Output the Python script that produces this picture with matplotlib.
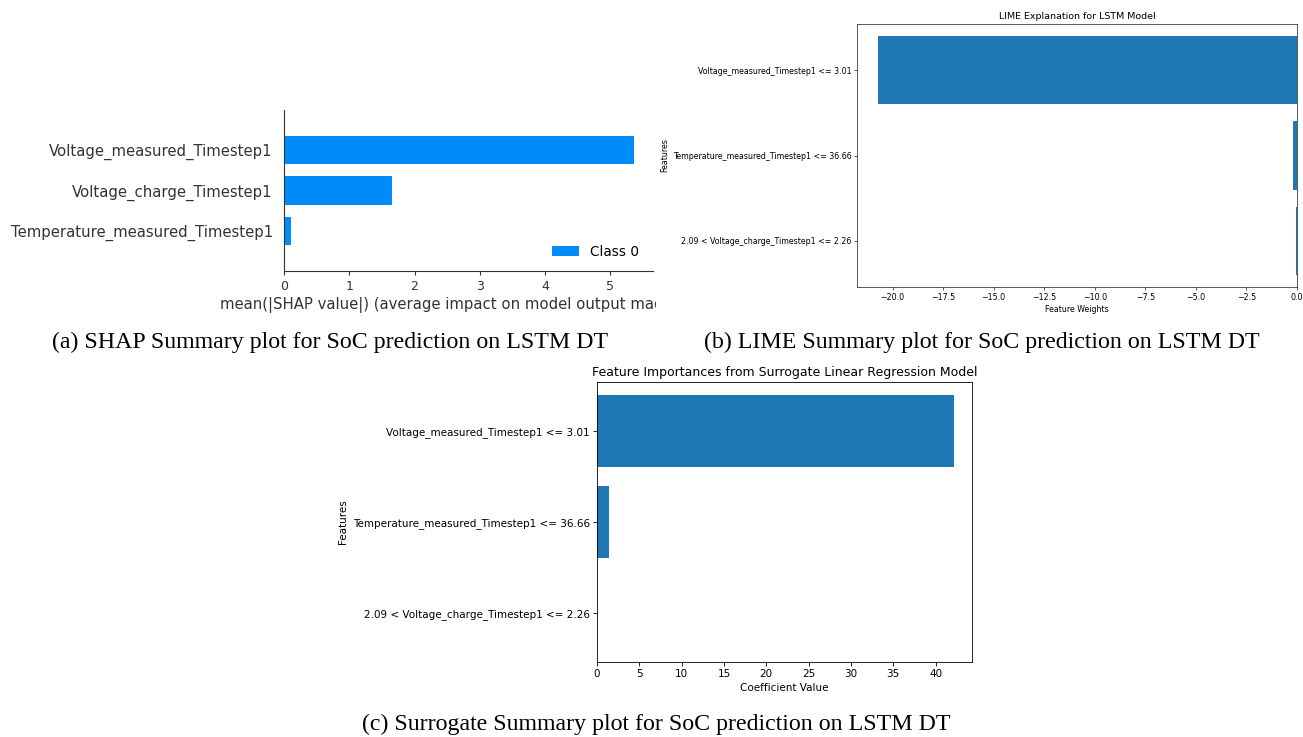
import matplotlib.pyplot as plt
from matplotlib.transforms import Bbox

# (a) SHAP mean |value|, top to bottom
shap_features = ["Voltage_measured_Timestep1", "Voltage_charge_Timestep1",
                 "Temperature_measured_Timestep1"]
shap_values = [5.36, 1.66, 0.11]

# (b) LIME weights, bottom to top
lime_features = ["2.09 < Voltage_charge_Timestep1 <= 2.26",
                 "Temperature_measured_Timestep1 <= 36.66",
                 "Voltage_measured_Timestep1 <= 3.01"]
lime_weights = [-0.04, -0.22, -20.72]

# (c) surrogate coefficients, bottom to top
sur_features = lime_features
sur_coefs = [0.0, 1.4, 42.2]

W, H = 1303, 737
fig = plt.figure(figsize=(W / 100, H / 100), dpi=100)


def rect(x0, y0, x1, y1):
    return [x0 / W, 1 - y1 / H, (x1 - x0) / W, (y1 - y0) / H]


# ---- (a) SHAP summary bar plot
grey = "#333333"
ax = fig.add_axes(rect(284, 110, 653, 271))
ypos = list(range(len(shap_values)))
ax.barh(ypos, shap_values, height=0.7, color="#008bfb", label="Class 0")
ax.set_ylim(len(shap_values), -1)
ax.set_xlim(0, max(shap_values) * 1.055)
ax.set_yticks(ypos)
ax.set_yticklabels(shap_features, fontsize=10.7, color=grey)
ax.tick_params(axis="y", length=0, pad=8)
ax.tick_params(axis="x", labelsize=9, colors=grey, length=3, width=0.8)
for s in ["top", "right"]:
    ax.spines[s].set_visible(False)
ax.spines["left"].set_color(grey)
ax.spines["bottom"].set_color(grey)
ax.set_xlabel("mean(|SHAP value|) (average impact on model output magnitude)",
              fontsize=10.7, color=grey, labelpad=3)
# the panel in the paper is cropped just right of the axes
ax.xaxis.label.set_clip_box(Bbox([[0, 0], [656, H]]))
ax.xaxis.label.set_clip_on(True)
ax.set_xticks([0, 1, 2, 3, 4, 5])
ax.legend(loc="lower right", bbox_to_anchor=(0.984, 0.025), frameon=False,
          fontsize=9.8, handlelength=2.0, borderaxespad=0.2)

# ---- (b) LIME explanation
s = 0.567
ax = fig.add_axes(rect(857, 24, 1297, 287))
ax.barh(range(len(lime_weights)), lime_weights, color="#1f77b4")
ax.set_yticks(range(len(lime_weights)))
ax.set_yticklabels(lime_features)
ax.tick_params(labelsize=10 * s, length=3.5 * s, width=0.8 * s, pad=3.5 * s)
for sp in ax.spines.values():
    sp.set_linewidth(0.8 * s)
ax.set_xlabel("Feature Weights", fontsize=10 * s, labelpad=4 * s)
ax.set_ylabel("Features", fontsize=10 * s, labelpad=4 * s)
ax.set_title("LIME Explanation for LSTM Model", fontsize=12 * s, pad=6 * s)

# ---- (c) surrogate linear regression
s = 0.75
ax = fig.add_axes(rect(597, 382, 972, 662))
ax.barh(range(len(sur_coefs)), sur_coefs, color="#1f77b4")
ax.set_yticks(range(len(sur_coefs)))
ax.set_yticklabels(sur_features)
ax.tick_params(labelsize=10 * s, length=3.5 * s, width=0.8 * s, pad=3.5 * s)
for sp in ax.spines.values():
    sp.set_linewidth(0.8 * s)
ax.set_xlabel("Coefficient Value", fontsize=10 * s, labelpad=4 * s)
ax.set_ylabel("Features", fontsize=10 * s, labelpad=4 * s)
ax.set_title("Feature Importances from Surrogate Linear Regression Model",
             fontsize=12 * s, pad=6 * s)

# ---- captions
cap = dict(fontsize=17.2, family="Liberation Serif", ha="center", va="center")
fig.text(330 / W, 1 - 342 / H, "(a) SHAP Summary plot for SoC prediction on LSTM DT", **cap)
fig.text(982 / W, 1 - 342 / H, "(b) LIME Summary plot for SoC prediction on LSTM DT", **cap)
fig.text(656 / W, 1 - 724 / H, "(c) Surrogate Summary plot for SoC prediction on LSTM DT", **cap)

plt.savefig("out.png", dpi=100)
